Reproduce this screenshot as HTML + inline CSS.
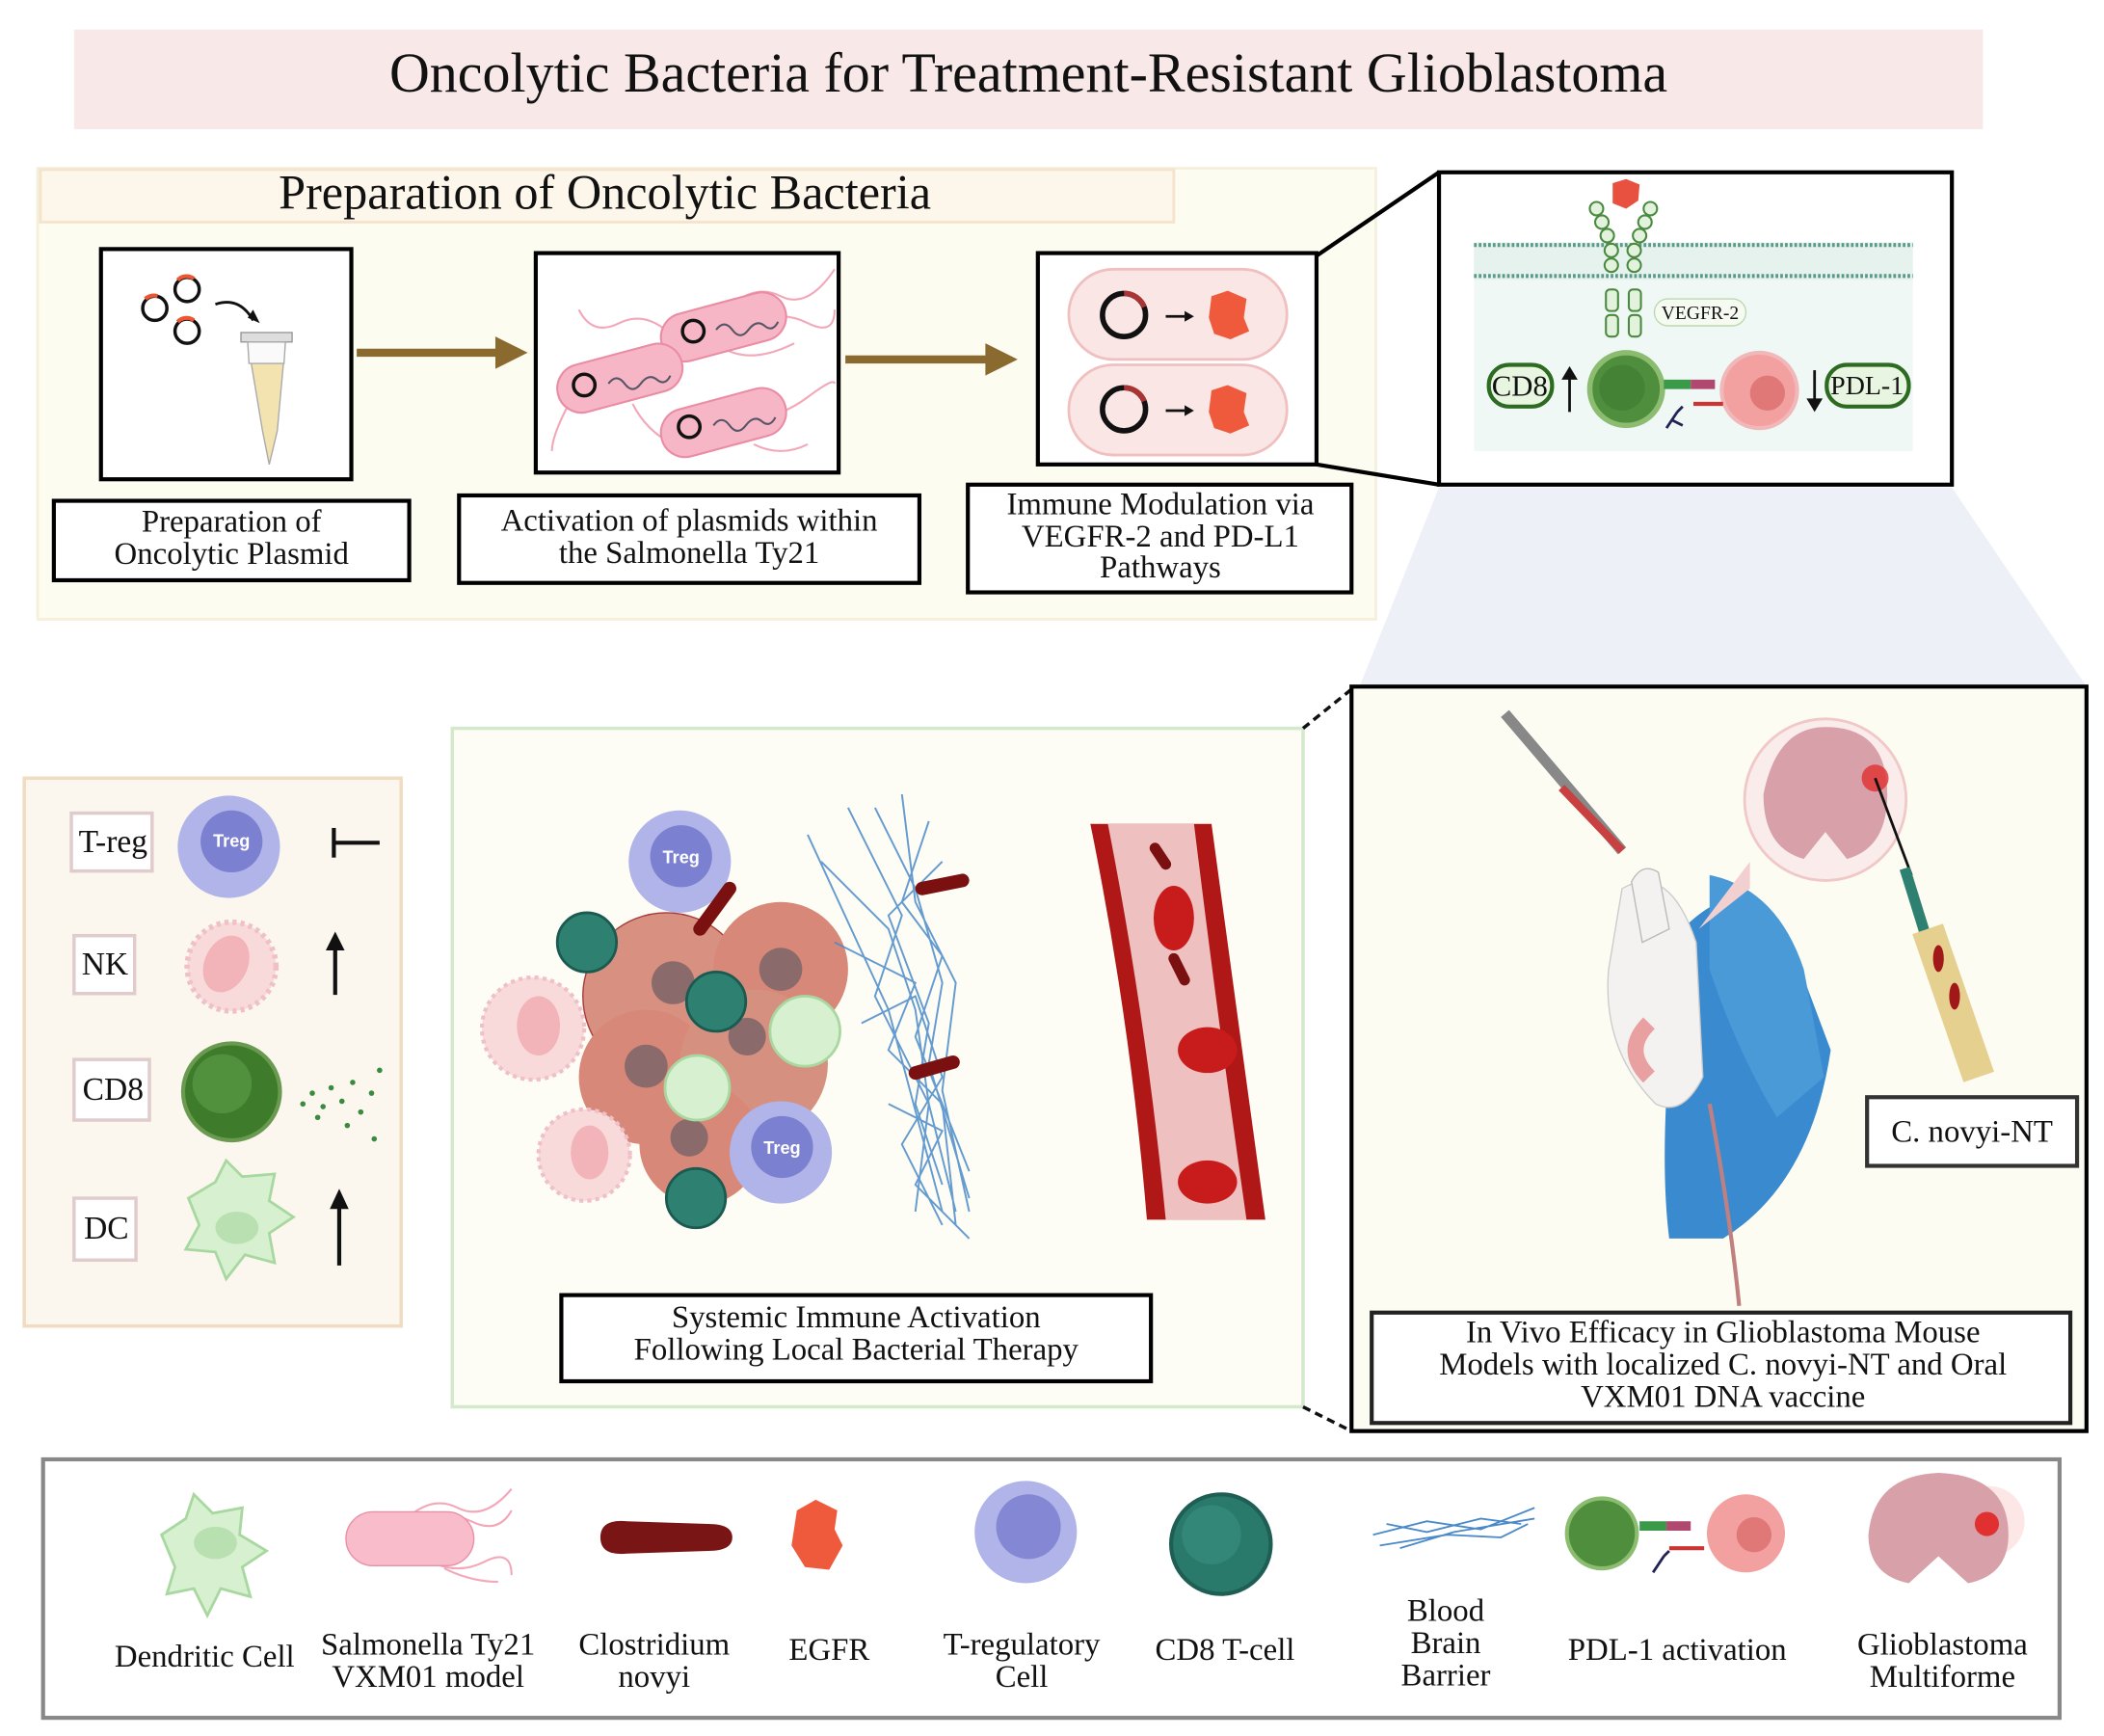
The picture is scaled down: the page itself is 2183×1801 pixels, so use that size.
<!DOCTYPE html>
<html><head><meta charset="utf-8"><style>
html,body{margin:0;padding:0;background:#fff;}
svg{display:block;}
text{font-family:"Liberation Serif",serif;fill:#111;}
</style></head><body>
<svg width="2183" height="1801" viewBox="0 0 1563 1289.5" xmlns="http://www.w3.org/2000/svg">
<rect width="1563" height="1290" fill="#fff"/>
<!-- title -->
<rect x="55" y="22" width="1418" height="74" fill="#f8e8e8"/>
<text x="764" y="68" font-size="41.5" text-anchor="middle">Oncolytic Bacteria for Treatment-Resistant Glioblastoma</text>

<!-- prep panel -->
<rect x="28" y="125" width="994" height="335" fill="#fdfcf1" stroke="#f5efdc" stroke-width="2"/>
<rect x="30" y="126" width="842" height="39" fill="#fdf6ea" stroke="#f6e3cc" stroke-width="2"/>
<text x="207" y="155" font-size="36">Preparation of Oncolytic Bacteria</text>

<!-- box1 -->
<rect x="75" y="185" width="186" height="171" fill="#fff" stroke="#000" stroke-width="3"/>
<g fill="none" stroke="#111" stroke-width="2.5">
<circle cx="115" cy="229" r="9"/><circle cx="139" cy="215" r="9"/><circle cx="139" cy="246" r="9"/></g>
<g fill="none" stroke="#e53" stroke-width="3">
<path d="M108 222 a9 9 0 0 1 9 -2"/><path d="M132 208 a9 9 0 0 1 12 -1"/><path d="M132 239 a9 9 0 0 1 12 -1"/></g>
<path d="M160 226 q18 -6 28 12" fill="none" stroke="#111" stroke-width="2"/>
<polygon points="184,236 193,240 188,230" fill="#111"/>
<rect x="179" y="247" width="38" height="7" fill="#ddd" stroke="#999"/>
<path d="M184 254 L212 254 L206 320 L200 345 L195 320 Z" fill="#f3e3b0" stroke="#aaa"/>
<path d="M184 254 L212 254 L211 270 L185 270 Z" fill="#fafafa" stroke="#aaa"/>

<!-- arrows -->
<rect x="265" y="259" width="105" height="6" fill="#8b6a2f"/>
<polygon points="368,250 392,262 368,274" fill="#8b6a2f"/>
<rect x="628" y="264" width="106" height="6" fill="#8b6a2f"/>
<polygon points="732,255 756,267 732,279" fill="#8b6a2f"/>

<!-- box2 -->
<rect x="398" y="188" width="225" height="163" fill="#fff" stroke="#000" stroke-width="3"/>
<g fill="none" stroke="#f2a8b8" stroke-width="1.5">
<path d="M540 230 q20 -20 40 -10 t40 -20"/><path d="M560 240 q20 -10 40 0 t20 -10"/><path d="M450 275 q-20 10 -30 30 t-10 30"/>
<path d="M560 310 q20 0 40 -15 t20 -10"/><path d="M470 300 q10 20 30 30"/><path d="M500 250 q-20 -20 -40 -10 t-30 -10"/>
<path d="M560 330 q20 10 40 0"/><path d="M540 260 q20 10 50 -5"/></g>
<g fill="#f7b6c6" stroke="#e98ca4" stroke-width="1.5">
<rect x="490" y="225" width="95" height="36" rx="18" transform="rotate(-15 537 243)"/>
<rect x="413" y="263" width="95" height="36" rx="18" transform="rotate(-15 460 281)"/>
<rect x="490" y="296" width="95" height="36" rx="18" transform="rotate(-15 537 314)"/></g>
<g fill="none" stroke="#111" stroke-width="2.5"><circle cx="515" cy="246" r="8"/><circle cx="434" cy="286" r="8"/><circle cx="512" cy="317" r="8"/></g>
<g fill="none" stroke="#556" stroke-width="1.5"><path d="M532 245 q6 -8 12 0 t12 0 t12 -3 t10 -3"/><path d="M452 285 q6 -8 12 0 t12 0 t12 -3 t10 -3"/><path d="M530 316 q6 -8 12 0 t12 0 t12 -3 t10 -3"/></g>

<!-- box3 -->
<rect x="771" y="188" width="207" height="157" fill="#fff" stroke="#000" stroke-width="3"/>
<rect x="794" y="200" width="162" height="67" rx="33" fill="#fbe6e6" stroke="#f0c0c0" stroke-width="2"/>
<rect x="794" y="271" width="162" height="67" rx="33" fill="#fbe6e6" stroke="#f0c0c0" stroke-width="2"/>
<g fill="none" stroke-width="4"><circle cx="835" cy="234" r="16" stroke="#111"/><circle cx="835" cy="304" r="16" stroke="#111"/>
<path d="M835 218 a16 16 0 0 1 15 10" stroke="#a33"/><path d="M835 288 a16 16 0 0 1 15 10" stroke="#a33"/></g>
<g stroke="#111" stroke-width="2"><line x1="866" y1="235" x2="880" y2="235"/><line x1="866" y1="305" x2="880" y2="305"/></g>
<polygon points="880,231 887,235 880,239" fill="#111"/><polygon points="880,301 887,305 880,309" fill="#111"/>
<path d="M900 220 l12 -4 l14 6 l-2 14 l4 10 l-14 6 l-12 -4 l-4 -12 Z" fill="#ef5a3c"/>
<path d="M900 290 l12 -4 l14 6 l-2 14 l4 10 l-14 6 l-12 -4 l-4 -12 Z" fill="#ef5a3c"/>

<!-- labels row -->
<rect x="40" y="372" width="264" height="59" fill="#fff" stroke="#000" stroke-width="3"/>
<text x="172" y="395" font-size="23.5" text-anchor="middle">Preparation of</text>
<text x="172" y="419" font-size="23.5" text-anchor="middle">Oncolytic Plasmid</text>
<rect x="341" y="368" width="342" height="65" fill="#fff" stroke="#000" stroke-width="3"/>
<text x="512" y="394" font-size="23.5" text-anchor="middle">Activation of plasmids within</text>
<text x="512" y="418" font-size="23.5" text-anchor="middle">the Salmonella Ty21</text>
<rect x="719" y="360" width="285" height="80" fill="#fff" stroke="#000" stroke-width="3"/>
<text x="862" y="382" font-size="23.5" text-anchor="middle">Immune Modulation via</text>
<text x="862" y="406" font-size="23.5" text-anchor="middle">VEGFR-2 and PD-L1</text>
<text x="862" y="429" font-size="23.5" text-anchor="middle">Pathways</text>

<!-- trapezoid -->
<polygon points="1069,362 1450,362 1550,510 1010,510" fill="#eef0f8"/>
<!-- connectors to zoom -->
<line x1="978" y1="190" x2="1069" y2="128" stroke="#000" stroke-width="3"/>
<line x1="978" y1="345" x2="1069" y2="360" stroke="#000" stroke-width="3"/>
<!-- zoom box -->
<rect x="1069" y="128" width="381" height="232" fill="#fff" stroke="#000" stroke-width="3"/>
<rect x="1095" y="185" width="326" height="150" fill="#f0f8f6"/>
<rect x="1095" y="180" width="326" height="28" fill="#e6f2ee"/>
<line x1="1095" y1="182" x2="1421" y2="182" stroke="#5a9a88" stroke-width="3" stroke-dasharray="2 1.5"/>
<line x1="1095" y1="205" x2="1421" y2="205" stroke="#5a9a88" stroke-width="3" stroke-dasharray="2 1.5"/>
<g fill="#e3f2dc" stroke="#4a8a40" stroke-width="1.5">
<circle cx="1186" cy="155" r="5"/><circle cx="1190" cy="165" r="5"/><circle cx="1194" cy="175" r="5"/><circle cx="1197" cy="186" r="5"/><circle cx="1197" cy="197" r="5"/>
<circle cx="1226" cy="155" r="5"/><circle cx="1222" cy="165" r="5"/><circle cx="1218" cy="175" r="5"/><circle cx="1214" cy="186" r="5"/><circle cx="1214" cy="197" r="5"/>
<rect x="1193" y="215" width="9" height="16" rx="3"/><rect x="1193" y="234" width="9" height="16" rx="3"/>
<rect x="1210" y="215" width="9" height="16" rx="3"/><rect x="1210" y="234" width="9" height="16" rx="3"/></g>
<path d="M1198 136 l10 -3 l10 4 l-1 12 l-9 6 l-10 -4 Z" fill="#e85040"/>
<rect x="1229" y="222" width="68" height="20" rx="10" fill="#f6fbf2" stroke="#bcd8b0"/>
<text x="1263" y="237" font-size="14" text-anchor="middle">VEGFR-2</text>
<circle cx="1208" cy="289" r="27" fill="#4e8e3c" stroke="#8cbc70" stroke-width="4"/>
<circle cx="1205" cy="288" r="17" fill="#3e7c30" opacity=".6"/>
<circle cx="1307" cy="290" r="28" fill="#f3a0a0" stroke="#f0b8b8" stroke-width="3"/>
<circle cx="1313" cy="292" r="13" fill="#e07878"/>
<rect x="1236" y="282" width="20" height="7" fill="#3a9a4a"/><rect x="1256" y="282" width="18" height="7" fill="#b04870"/>
<path d="M1258 300 l22 0" stroke="#c33" stroke-width="3"/>
<path d="M1238 318 l8 -12 M1246 306 l4 -4 M1242 312 l8 4" stroke="#225" stroke-width="2"/>
<rect x="1106" y="271" width="47" height="31" rx="15" fill="#e8f5e0" stroke="#2d6a22" stroke-width="3"/>
<text x="1129" y="294" font-size="22" text-anchor="middle">CD8</text>
<line x1="1166" y1="306" x2="1166" y2="280" stroke="#111" stroke-width="2"/><polygon points="1160,282 1166,272 1172,282" fill="#111"/>
<line x1="1348" y1="275" x2="1348" y2="298" stroke="#111" stroke-width="2"/><polygon points="1342,296 1348,306 1354,296" fill="#111"/>
<rect x="1357" y="271" width="61" height="31" rx="15" fill="#e8f5e0" stroke="#2d6a22" stroke-width="3"/>
<text x="1387" y="293" font-size="20" text-anchor="middle">PDL-1</text>

<!-- left legend panel -->
<rect x="18" y="578" width="280" height="407" fill="#fbf7ee" stroke="#f0dcc0" stroke-width="2.5"/>
<g fill="#fff" stroke="#e0cccc" stroke-width="2.5">
<rect x="53" y="604" width="60" height="43"/><rect x="55" y="695" width="45" height="43"/><rect x="55" y="787" width="56" height="45"/><rect x="55" y="890" width="46" height="46"/></g>
<text x="84" y="633" font-size="24" text-anchor="middle">T-reg</text>
<text x="78" y="724" font-size="24" text-anchor="middle">NK</text>
<text x="84" y="817" font-size="24" text-anchor="middle">CD8</text>
<text x="79" y="920" font-size="24" text-anchor="middle">DC</text>
<circle cx="170" cy="629" r="38" fill="#b0b4e8"/><circle cx="172" cy="625" r="23" fill="#7c80d0"/>
<text x="172" y="629" font-size="13" text-anchor="middle" style="fill:#fff;font-family:'Liberation Sans',sans-serif;font-weight:bold">Treg</text>
<line x1="248" y1="615" x2="248" y2="637" stroke="#111" stroke-width="3"/><line x1="248" y1="626" x2="282" y2="626" stroke="#111" stroke-width="3"/>
<circle cx="172" cy="718" r="33" fill="#f8dada" stroke="#f0c0c8" stroke-width="4" stroke-dasharray="3 3"/><ellipse cx="168" cy="716" rx="16" ry="22" fill="#f2b4b8" transform="rotate(25 168 716)"/>
<line x1="249" y1="739" x2="249" y2="704" stroke="#111" stroke-width="3"/><polygon points="242,706 249,692 256,706" fill="#111"/>
<circle cx="172" cy="811" r="36" fill="#3e7c2c" stroke="#6a9a50" stroke-width="3"/><circle cx="165" cy="805" r="22" fill="#5a9a46" opacity=".7"/>
<g fill="#3a8a40"><circle cx="225" cy="820" r="2"/><circle cx="232" cy="812" r="2"/><circle cx="240" cy="822" r="2"/><circle cx="246" cy="808" r="2"/><circle cx="254" cy="818" r="2"/><circle cx="262" cy="804" r="2"/><circle cx="268" cy="826" r="2"/><circle cx="276" cy="812" r="2"/><circle cx="258" cy="836" r="2"/><circle cx="278" cy="846" r="2"/><circle cx="282" cy="795" r="2"/><circle cx="236" cy="830" r="2"/></g>
<path d="M140 890 l20 -12 l8 -16 l12 12 l24 -2 l-4 20 l18 12 l-18 12 l4 22 l-22 -6 l-14 18 l-8 -20 l-22 -2 l10 -18 Z" fill="#d6f0d0" stroke="#a8d8a0" stroke-width="2"/>
<ellipse cx="176" cy="912" rx="16" ry="12" fill="#b8e0b0"/>
<line x1="252" y1="940" x2="252" y2="896" stroke="#111" stroke-width="3"/><polygon points="245,898 252,883 259,898" fill="#111"/>

<!-- middle panel -->
<rect x="336" y="541" width="632" height="504" fill="#fdfdf6" stroke="#d4e8cc" stroke-width="2.5"/>
<g>
<circle cx="495" cy="740" r="62" fill="#d89080" stroke="#a83a3a" stroke-width="1"/>
<circle cx="580" cy="720" r="50" fill="#d88878"/>
<circle cx="480" cy="800" r="50" fill="#d88878"/>
<circle cx="560" cy="790" r="55" fill="#d69080"/>
<circle cx="520" cy="850" r="45" fill="#d88878"/>
<g fill="#8a6a6a"><circle cx="500" cy="730" r="16"/><circle cx="580" cy="720" r="16"/><circle cx="480" cy="792" r="16"/><circle cx="555" cy="770" r="14"/><circle cx="512" cy="845" r="14"/></g>
<circle cx="505" cy="640" r="38" fill="#b0b4e8"/><circle cx="506" cy="636" r="23" fill="#7c80d0"/>
<text x="506" y="641" font-size="13" text-anchor="middle" style="fill:#fff;font-family:'Liberation Sans',sans-serif;font-weight:bold">Treg</text>
<circle cx="580" cy="856" r="38" fill="#b0b4e8"/><circle cx="581" cy="852" r="23" fill="#7c80d0"/>
<text x="581" y="857" font-size="13" text-anchor="middle" style="fill:#fff;font-family:'Liberation Sans',sans-serif;font-weight:bold">Treg</text>
<g fill="#2e8070" stroke="#1a5a50" stroke-width="2"><circle cx="436" cy="700" r="22"/><circle cx="532" cy="744" r="22"/><circle cx="517" cy="890" r="22"/></g>
<g fill="#f8dada" stroke="#f0c0c8" stroke-width="3" stroke-dasharray="3 3"><circle cx="396" cy="764" r="38"/><circle cx="434" cy="858" r="34"/></g>
<g fill="#f2b4b8"><ellipse cx="400" cy="762" rx="16" ry="22"/><ellipse cx="438" cy="856" rx="14" ry="20"/></g>
<g fill="#d6f0d0" stroke="#a8d8a0" stroke-width="2"><circle cx="598" cy="766" r="26"/><circle cx="518" cy="808" r="24"/></g>
<path d="M520 690 l22 -30" stroke="#7a1010" stroke-width="10" stroke-linecap="round"/>
</g>
<g stroke="#4a8ac8" stroke-width="1.4" fill="none" opacity=".85">
<path d="M630 600 l40 80 l-20 60 l40 80 l-10 80 M650 600 l30 60 l20 70 l-10 60 l30 100 M610 640 l50 50 l20 60 l10 70 l20 80 M690 610 l-20 60 l30 40 l-20 60 l40 100 M620 700 l60 30 l-20 50 l40 40 l10 90 M670 590 l10 80 l30 60 l-10 80 l20 90 M640 760 l40 -20 l20 60 l-30 50 l30 60 M600 620 l60 130 l40 150 M700 640 l-40 40 l30 80 l-10 60 l20 60 M660 820 l40 20 l-20 40 l40 40"/>
</g>
<path d="M685 660 l30 -6" stroke="#7a1010" stroke-width="10" stroke-linecap="round"/>
<path d="M680 797 l28 -8" stroke="#7a1010" stroke-width="10" stroke-linecap="round"/>
<path d="M810 612 L900 612 Q920 760 940 906 L852 906 Q840 760 810 612 Z" fill="#b01818"/>
<path d="M823 612 L887 612 Q905 760 926 906 L866 906 Q852 760 823 612 Z" fill="#eec0c0"/>
<g fill="#c81c1c"><ellipse cx="872" cy="682" rx="15" ry="24"/><ellipse cx="897" cy="780" rx="22" ry="17"/><ellipse cx="897" cy="878" rx="22" ry="16"/></g>
<path d="M858 630 l8 12 M872 712 l8 16" stroke="#7a1010" stroke-width="8" stroke-linecap="round"/>
<rect x="417" y="962" width="438" height="64" fill="#fff" stroke="#000" stroke-width="3"/>
<text x="636" y="986" font-size="23.5" text-anchor="middle">Systemic Immune Activation</text>
<text x="636" y="1010" font-size="23.5" text-anchor="middle">Following Local Bacterial Therapy</text>

<!-- dashed connectors -->
<line x1="968" y1="541" x2="1004" y2="512" stroke="#111" stroke-width="2.5" stroke-dasharray="6 4"/>
<line x1="968" y1="1045" x2="1004" y2="1063" stroke="#111" stroke-width="2.5" stroke-dasharray="6 4"/>

<!-- right panel -->
<rect x="1004" y="510" width="546" height="553" fill="#fdfcf3" stroke="#000" stroke-width="3"/>
<path d="M1250 690 Q1300 640 1330 700 L1360 780 Q1345 880 1280 920 L1240 920 Q1230 840 1250 690 Z" fill="#3a8ad0"/>
<path d="M1270 650 Q1320 660 1340 720 L1355 800 L1320 830 Q1290 780 1270 720 Z" fill="#4a9ad8"/>
<path d="M1205 660 Q1240 640 1260 700 L1265 800 Q1250 830 1230 820 Q1190 780 1195 720 Z" fill="#f4f2f0" stroke="#ccc"/>
<path d="M1212 655 Q1220 640 1232 648 L1240 690 L1220 700 Z" fill="#f4f2f0" stroke="#bbb"/>
<path d="M1225 760 q-20 20 0 40" stroke="#e8a0a0" stroke-width="12" fill="none"/>
<path d="M1270 820 Q1285 900 1292 970" stroke="#c08080" stroke-width="3" fill="none"/>
<path d="M1118 530 L1205 632" stroke="#888" stroke-width="8"/>
<path d="M1160 585 L1205 632" stroke="#c84040" stroke-width="6"/>
<circle cx="1356" cy="594" r="60" fill="#fbecec" stroke="#f0c8c8" stroke-width="2"/>
<path d="M1310 590 q10 -50 46 -50 q46 0 46 50 q0 40 -30 48 l-16 -20 l-16 20 q-30 -8 -30 -48 Z" fill="#d8a0a8"/>
<circle cx="1393" cy="578" r="10" fill="#e03030" opacity=".8"/>
<polygon points="1300,640 1262,690 1300,660" fill="#f2d0d0"/>
<line x1="1393" y1="578" x2="1420" y2="650" stroke="#111" stroke-width="2"/>
<path d="M1415 645 L1460 790" stroke="#2e8070" stroke-width="8"/>
<path d="M1432 690 L1470 800" stroke="#e6d090" stroke-width="24"/>
<g fill="#a01818"><ellipse cx="1440" cy="712" rx="4" ry="10"/><ellipse cx="1452" cy="740" rx="4" ry="10"/></g>
<rect x="1387" y="815" width="156" height="51" fill="#fff" stroke="#333" stroke-width="3"/>
<text x="1465" y="848" font-size="23.5" text-anchor="middle">C. novyi-NT</text>
<rect x="1019" y="975" width="519" height="82" fill="#fff" stroke="#222" stroke-width="3"/>
<text x="1280" y="997" font-size="23.5" text-anchor="middle">In Vivo Efficacy in  Glioblastoma Mouse</text>
<text x="1280" y="1021" font-size="23.5" text-anchor="middle">Models with localized C. novyi-NT and Oral</text>
<text x="1280" y="1045" font-size="23.5" text-anchor="middle">VXM01 DNA vaccine</text>

<!-- bottom legend -->
<rect x="32" y="1084" width="1498" height="192" fill="#fff" stroke="#888" stroke-width="3"/>
<path d="M120 1140 l18 -12 l6 -18 l14 14 l22 -4 l-2 20 l20 12 l-18 12 l6 22 l-22 -6 l-10 20 l-10 -20 l-20 4 l6 -20 Z" fill="#d6f0d0" stroke="#a8d8a0" stroke-width="2"/>
<ellipse cx="160" cy="1146" rx="16" ry="12" fill="#b8e0b0"/>
<g fill="none" stroke="#f2a8b8" stroke-width="1.5"><path d="M300 1130 q20 -20 40 -10 t40 -14"/><path d="M310 1130 q20 -10 40 0 t30 -8"/><path d="M320 1160 q20 10 40 0 t20 10"/><path d="M330 1165 q20 10 40 10"/></g>
<rect x="257" y="1123" width="95" height="40" rx="20" fill="#f8bccb" stroke="#e890a8"/>
<path d="M446 1142 q0 -14 20 -12 l60 2 q18 0 18 10 q0 10 -18 10 l-60 2 q-20 2 -20 -12 Z" fill="#7a1515"/>
<path d="M592 1122 l14 -8 l16 8 l-2 14 l6 12 l-10 18 l-18 -2 l-10 -16 Z" fill="#ef5a3c"/>
<circle cx="762" cy="1138" r="38" fill="#b0b4e8"/><circle cx="764" cy="1134" r="24" fill="#8488d4"/>
<circle cx="907" cy="1147" r="37" fill="#2a7a6c" stroke="#1e5e54" stroke-width="3"/><circle cx="900" cy="1140" r="22" fill="#3a9080" opacity=".6"/>
<g stroke="#4a8ac8" stroke-width="1.3" fill="none"><path d="M1020 1140 l40 -10 l40 6 l40 -16 M1025 1148 l50 -8 l40 2 l20 -10 M1030 1132 l30 6 l40 -10 l30 4 M1040 1150 l40 -12 l60 -10"/></g>
<circle cx="1190" cy="1139" r="26" fill="#4e8e3c" stroke="#8cbc70" stroke-width="3"/>
<circle cx="1297" cy="1139" r="29" fill="#f3a0a0"/><circle cx="1303" cy="1140" r="13" fill="#e07878"/>
<rect x="1218" y="1130" width="20" height="7" fill="#3a9a4a"/><rect x="1238" y="1130" width="18" height="7" fill="#b04870"/>
<path d="M1240 1150 l26 0" stroke="#c33" stroke-width="3"/>
<path d="M1228 1168 l8 -12 M1236 1156 l4 -4" stroke="#225" stroke-width="2"/>
<circle cx="1478" cy="1130" r="26" fill="#fbe0e0" opacity=".8"/>
<path d="M1388 1140 q4 -44 52 -46 q52 2 52 46 q0 30 -30 36 l-22 -20 l-22 20 q-30 -6 -30 -36 Z" fill="#d8a0a8"/>
<circle cx="1476" cy="1132" r="9" fill="#e03030"/>
<g font-size="23.5" text-anchor="middle">
<text x="152" y="1238">Dendritic Cell</text>
<text x="318" y="1229">Salmonella Ty21</text><text x="318" y="1253">VXM01 model</text>
<text x="486" y="1229">Clostridium</text><text x="486" y="1253">novyi</text>
<text x="616" y="1233">EGFR</text>
<text x="759" y="1229">T-regulatory</text><text x="759" y="1253">Cell</text>
<text x="910" y="1233">CD8 T-cell</text>
<text x="1074" y="1204">Blood</text><text x="1074" y="1228">Brain</text><text x="1074" y="1252">Barrier</text>
<text x="1246" y="1233">PDL-1 activation</text>
<text x="1443" y="1229">Glioblastoma</text><text x="1443" y="1253">Multiforme</text>
</g>
</svg>
</body></html>
